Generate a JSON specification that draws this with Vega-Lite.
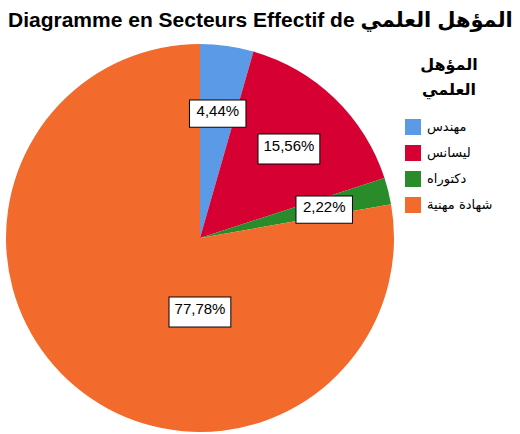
{
  "$schema": "https://vega.github.io/schema/vega-lite/v6.json",
  "autosize": {"type": "none"},
  "padding": {"left": 0, "top": 42, "right": 120, "bottom": 0},
  "width": 400,
  "height": 392,
  "background": "white",
  "title": {
    "text": "Diagramme en Secteurs Effectif de المؤهل العلمي",
    "anchor": "start",
    "font": "Liberation Sans, DejaVu Sans",
    "fontSize": 21,
    "fontWeight": "bold",
    "color": "black",
    "dx": 8,
    "offset": 11
  },
  "data": {
    "values": [
      {"cat": "مهندس", "n": 2, "pct": "4,44%", "o": 1},
      {"cat": "ليسانس", "n": 7, "pct": "15,56%", "o": 2},
      {"cat": "دكتوراه", "n": 1, "pct": "2,22%", "o": 3},
      {"cat": "شهادة مهنية", "n": 35, "pct": "77,78%", "o": 4}
    ]
  },
  "encoding": {
    "theta": {"field": "n", "type": "quantitative", "stack": true},
    "order": {"field": "o", "type": "quantitative"}
  },
  "layer": [
    {
      "mark": {"type": "arc", "outerRadius": 194},
      "encoding": {
        "color": {
          "field": "cat",
          "type": "nominal",
          "sort": null,
          "scale": {
            "domain": ["مهندس", "ليسانس", "دكتوراه", "شهادة مهنية"],
            "range": ["#5b9ae6", "#d60032", "#2a8b2a", "#f26a2c"]
          },
          "legend": {
            "title": ["المؤهل", "العلمي"],
            "orient": "none",
            "legendX": 405,
            "legendY": 15,
            "titleFont": "DejaVu Sans",
            "titleFontSize": 16,
            "titleFontWeight": "bold",
            "titleLineHeight": 25,
            "titleAnchor": "middle",
            "titleAlign": "center",
            "titleColor": "black",
            "titlePadding": 21,
            "symbolType": "square",
            "symbolSize": 256,
            "symbolStrokeWidth": 0,
            "symbolOpacity": 1,
            "labelFont": "DejaVu Sans",
            "labelFontSize": 13,
            "labelColor": "black",
            "rowPadding": 10,
            "labelOffset": 6
          }
        }
      }
    },
    {
      "mark": {"type": "text", "radius": 128, "text": "▬", "font": "DejaVu Sans", "fill": "white", "stroke": "black", "strokeWidth": 1},
      "encoding": {
        "size": {"condition": {"test": "datum.o == 2", "value": 81}, "value": 74},
        "opacity": {"condition": {"test": "datum.o < 4", "value": 1}, "value": 0}
      }
    },
    {
      "mark": {"type": "text", "radius": 0, "dy": 71, "text": "▬", "font": "DejaVu Sans", "fontSize": 81, "fill": "white", "stroke": "black", "strokeWidth": 1},
      "encoding": {
        "opacity": {"condition": {"test": "datum.o == 4", "value": 1}, "value": 0}
      }
    },
    {
      "mark": {"type": "text", "radius": 128, "font": "Liberation Sans", "fontSize": 15, "color": "black"},
      "encoding": {
        "text": {"field": "pct"},
        "opacity": {"condition": {"test": "datum.o < 4", "value": 1}, "value": 0}
      }
    },
    {
      "mark": {"type": "text", "radius": 0, "dy": 71, "font": "Liberation Sans", "fontSize": 15, "color": "black"},
      "encoding": {
        "text": {"field": "pct"},
        "opacity": {"condition": {"test": "datum.o == 4", "value": 1}, "value": 0}
      }
    }
  ]
}
